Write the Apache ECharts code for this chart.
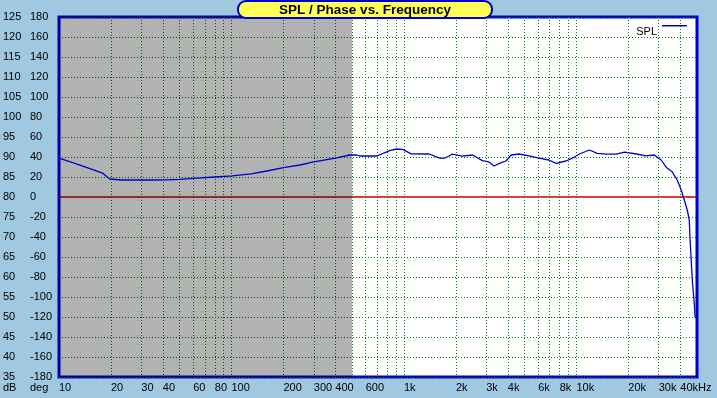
<!DOCTYPE html>
<html>
<head>
<meta charset="utf-8">
<script src="https://cdn.jsdelivr.net/npm/echarts@6/dist/echarts.min.js"></script>
<style>
  html, body { margin: 0; padding: 0; background: #a0c8e0; }
  #chart { width: 717px; height: 398px; }
</style>
</head>
<body>
<div id="chart"></div>
<script>
// SPL curve (Hz, dB)
const freqs = [10, 12, 14, 16, 18, 19.7, 23, 28, 35, 42, 50, 63, 80, 101, 130, 160, 204, 250, 295, 350, 407, 485, 532, 552, 612, 698,
  825, 906, 983, 1100, 1400, 1608, 1720, 1900, 2180, 2500, 2850, 3100, 3330, 3660, 3900, 4190, 4650, 5300, 6070, 6930,
  7630, 8700, 9470, 10400, 11900, 12200, 13200, 14900, 17000, 19000, 22300, 25300, 28200, 31000, 33200, 35900, 38400,
  40500, 42200, 43900, 45100, 45600, 46500, 47100, 48200, 48800];
const spl = [89.7, 88.6, 87.6, 86.7, 85.9, 84.5, 84.25, 84.25, 84.25, 84.3, 84.4, 84.7, 85.0, 85.3, 85.8, 86.5, 87.4, 88.0, 88.7, 89.3, 89.8, 90.5, 90.5, 90.25, 90.25, 90.25,
  91.6, 92.0, 91.9, 90.8, 90.75, 89.7, 89.7, 90.7, 90.2, 90.5, 89.1, 88.8, 87.75, 88.6, 89.0,
  90.5, 90.75, 90.3, 89.7, 89.25, 88.4, 89.0, 89.7, 90.75, 91.75, 91.9, 90.9, 90.7, 90.7, 91.2,
  90.75, 90.3, 90.5, 89.25, 87.4, 86.3, 84.25, 81.75, 79.25, 76.75, 74.25, 69.25, 62.6, 58.5, 53.5, 49.75];

const gridFreqs = [20, 30, 40, 50, 60, 70, 80, 90, 100, 200, 300, 400, 500, 600, 700, 800, 900,
  1000, 2000, 3000, 4000, 5000, 6000, 7000, 8000, 9000, 10000, 20000, 30000, 40000];
const labelFreqs = [10, 20, 30, 40, 60, 80, 100, 200, 300, 400, 600, 1000, 2000, 3000, 4000, 6000, 8000, 10000, 20000, 30000, 40000];
const grayBand = [10, 500];

const font = 'Liberation Sans, Arial, sans-serif';

let myChart = echarts.init(document.getElementById('chart'));

// dotted green lines, except at 80 dB / 0 deg where the red line sits
const dbColors = [];
const degColors = [];
for (let i = 0; i < 19; i++) {
  dbColors.push(i === 9 ? 'rgba(0,0,0,0)' : '#008000');
  degColors.push(i === 9 ? '#c00000' : 'rgba(0,0,0,0)');
}

const option = {
  backgroundColor: '#a0c8e0',
  animation: false,
  grid: {
    left: 59, right: 20, top: 17, bottom: 21,
    show: true,
    backgroundColor: '#ffffff',
    borderColor: '#0000cc',
    borderWidth: 3
  },
  legend: {
    right: 25,
    top: 20,
    align: 'right',
    icon: 'rect',
    itemWidth: 25,
    itemHeight: 1.5,
    itemGap: 5,
    itemStyle: { color: '#0000cc' },
    data: ['SPL'],
    formatter: '{t|{name}}',
    textStyle: {
      color: '#000', fontSize: 11, fontFamily: font,
      rich: { t: { fontSize: 11, fontFamily: font, color: '#000', padding: [12, 0, 0, 0] } }
    }
  },
  xAxis: {
    type: 'log',
    logBase: 10,
    min: 10,
    max: 50000,
    axisLine: { show: false },
    axisTick: { show: false, customValues: gridFreqs },
    axisLabel: {
      customValues: labelFreqs,
      align: 'left',
      margin: 5,
      color: '#000',
      fontSize: 11,
      fontFamily: font,
      formatter: function (v) {
        if (v >= 1000) return (v / 1000) + 'k' + (v === 40000 ? 'Hz' : '');
        return String(v);
      }
    },
    splitLine: { show: true, lineStyle: { color: '#008000', width: 1, type: [1, 2] } }
  },
  yAxis: [
    {
      type: 'value',
      min: 35, max: 125, interval: 5,
      axisLine: { show: false },
      axisTick: { show: false },
      axisLabel: { align: 'left', margin: 56, color: '#000', fontSize: 11, fontFamily: font },
      splitLine: { show: true, lineStyle: { color: dbColors, width: 1, type: [1, 2] } }
    },
    {
      type: 'value',
      min: -180, max: 180, interval: 20,
      position: 'left',
      axisLine: { show: false },
      axisTick: { show: false },
      axisLabel: { align: 'left', margin: 29, color: '#000', fontSize: 11, fontFamily: font },
      splitLine: { show: true, lineStyle: { color: degColors, width: 1.6, type: 'solid' } }
    }
  ],
  series: [
    {
      name: 'SPL',
      type: 'line',
      yAxisIndex: 0,
      color: '#0000cc',
      showSymbol: false,
      symbol: 'none',
      lineStyle: { color: '#0000cc', width: 1.3 },
      data: freqs.map((f, i) => [f, spl[i]]),
      markArea: {
        silent: true,
        itemStyle: { color: 'rgba(0,0,0,0.3)' },
        data: [[{ xAxis: grayBand[0] }, { xAxis: grayBand[1] }]]
      }
    }
  ],
  graphic: [
    {
      type: 'rect', z: 100,
      shape: { x: 238, y: 1, width: 254, height: 17, r: 8 },
      style: { fill: '#ffff55', stroke: '#0000cc', lineWidth: 2 }
    },
    {
      type: 'text', z: 101,
      x: 365, y: 10,
      style: { text: 'SPL / Phase vs. Frequency', font: 'bold 13.5px ' + font, fill: '#000', align: 'center', verticalAlign: 'middle' }
    },
    { type: 'text', x: 3, y: 388, style: { text: 'dB', font: '11px ' + font, fill: '#000', verticalAlign: 'middle' } },
    { type: 'text', x: 30, y: 388, style: { text: 'deg', font: '11px ' + font, fill: '#000', verticalAlign: 'middle' } }
  ]
};

myChart.setOption(option);
</script>
</body>
</html>
